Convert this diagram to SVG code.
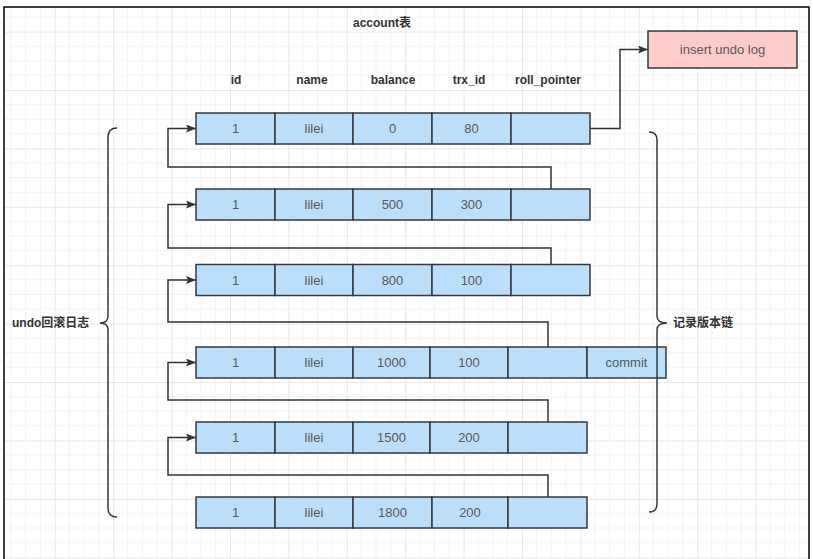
<svg xmlns="http://www.w3.org/2000/svg" width="813" height="559" viewBox="0 0 813 559">
<style>
.cell{fill:#bbdefb;stroke:#36393d;stroke-width:1.5}
.ct{font-family:"Liberation Sans","Noto Sans CJK SC",sans-serif;font-size:13px;fill:#595959;text-anchor:middle;dominant-baseline:central}
.hd{font-family:"Liberation Sans","Noto Sans CJK SC",sans-serif;font-size:12px;font-weight:bold;fill:#333;text-anchor:middle;dominant-baseline:central}
.lb{font-family:"Liberation Sans","Noto Sans CJK SC",sans-serif;font-size:12px;font-weight:bold;fill:#333;dominant-baseline:central}
.conn{fill:none;stroke:#333;stroke-width:1.5}
.brace{fill:none;stroke:#36393d;stroke-width:1.5}
</style>
<defs>
<pattern id="grid" patternUnits="userSpaceOnUse" x="-3.6" y="-26.8" width="58.4" height="58.4">
<path d="M14.6,0V58.4M29.2,0V58.4M43.8,0V58.4M0,14.6H58.4M0,29.2H58.4M0,43.8H58.4" stroke="#f2f2f2" stroke-width="1" fill="none"/>
<path d="M0.5,0V58.4M0,0.5H58.4" stroke="#e8e8e8" stroke-width="1" fill="none"/>
</pattern>
<marker id="arr" markerUnits="userSpaceOnUse" markerWidth="10" markerHeight="8" refX="10" refY="4" orient="auto">
<path d="M0,0L10,4L0,8L2,4Z" fill="#333"/>
</marker>
</defs>
<rect width="813" height="559" fill="#fff"/>
<rect x="4" y="7" width="805" height="552" fill="url(#grid)"/>
<path d="M4,559V7H809V559" fill="none" stroke="#000" stroke-width="1.5"/>

<text class="hd" x="382" y="23">account表</text>
<g id="headers">
<text class="hd" x="236" y="80">id</text>
<text class="hd" x="312" y="80">name</text>
<text class="hd" x="393" y="80">balance</text>
<text class="hd" x="469" y="80">trx_id</text>
<text class="hd" x="548" y="80">roll_pointer</text>
</g>

<g id="row1">
<rect class="cell" x="196" y="113" width="79" height="31"/>
<rect class="cell" x="275" y="113" width="78" height="31"/>
<rect class="cell" x="353" y="113" width="79" height="31"/>
<rect class="cell" x="432" y="113" width="79" height="31"/>
<rect class="cell" x="511" y="113" width="79" height="31"/>
<text class="ct" x="235.5" y="128.5">1</text>
<text class="ct" x="314" y="128.5">lilei</text>
<text class="ct" x="392.5" y="128.5">0</text>
<text class="ct" x="471.5" y="128.5">80</text>
</g>
<g id="row2">
<rect class="cell" x="196" y="189" width="79" height="31"/>
<rect class="cell" x="275" y="189" width="78" height="31"/>
<rect class="cell" x="353" y="189" width="79" height="31"/>
<rect class="cell" x="432" y="189" width="79" height="31"/>
<rect class="cell" x="511" y="189" width="79" height="31"/>
<text class="ct" x="235.5" y="204.5">1</text>
<text class="ct" x="314" y="204.5">lilei</text>
<text class="ct" x="392.5" y="204.5">500</text>
<text class="ct" x="471.5" y="204.5">300</text>
</g>
<g id="row3">
<rect class="cell" x="196" y="264.5" width="79" height="31"/>
<rect class="cell" x="275" y="264.5" width="78" height="31"/>
<rect class="cell" x="353" y="264.5" width="79" height="31"/>
<rect class="cell" x="432" y="264.5" width="79" height="31"/>
<rect class="cell" x="511" y="264.5" width="79" height="31"/>
<text class="ct" x="235.5" y="280">1</text>
<text class="ct" x="314" y="280">lilei</text>
<text class="ct" x="392.5" y="280">800</text>
<text class="ct" x="471.5" y="280">100</text>
</g>
<g id="row4">
<rect class="cell" x="196" y="347" width="79" height="31"/>
<rect class="cell" x="275" y="347" width="78" height="31"/>
<rect class="cell" x="353" y="347" width="77" height="31"/>
<rect class="cell" x="430" y="347" width="78" height="31"/>
<rect class="cell" x="508" y="347" width="79" height="31"/>
<rect class="cell" x="587" y="347" width="79" height="31"/>
<text class="ct" x="235.5" y="362.5">1</text>
<text class="ct" x="314" y="362.5">lilei</text>
<text class="ct" x="391.5" y="362.5">1000</text>
<text class="ct" x="469" y="362.5">100</text>
<text class="ct" x="626.5" y="362.5">commit</text>
</g>
<g id="row5">
<rect class="cell" x="196" y="422" width="79" height="31"/>
<rect class="cell" x="275" y="422" width="78" height="31"/>
<rect class="cell" x="353" y="422" width="77" height="31"/>
<rect class="cell" x="430" y="422" width="78" height="31"/>
<rect class="cell" x="508" y="422" width="79" height="31"/>
<text class="ct" x="235.5" y="437.5">1</text>
<text class="ct" x="314" y="437.5">lilei</text>
<text class="ct" x="391.5" y="437.5">1500</text>
<text class="ct" x="469" y="437.5">200</text>
</g>
<g id="row6">
<rect class="cell" x="196" y="497" width="79" height="31"/>
<rect class="cell" x="275" y="497" width="78" height="31"/>
<rect class="cell" x="353" y="497" width="79" height="31"/>
<rect class="cell" x="432" y="497" width="76" height="31"/>
<rect class="cell" x="508" y="497" width="79" height="31"/>
<text class="ct" x="235.5" y="512.5">1</text>
<text class="ct" x="314" y="512.5">lilei</text>
<text class="ct" x="392.5" y="512.5">1800</text>
<text class="ct" x="470" y="512.5">200</text>
</g>

<g id="insert-undo-log">
<rect x="648" y="31" width="149" height="37" fill="#ffcccc" stroke="#36393d" stroke-width="1.5"/>
<text class="ct" x="722.5" y="49.5">insert undo log</text>
</g>

<g id="connectors">
<path class="conn" d="M590,128.5H620V49.5H648" marker-end="url(#arr)"/>
<path class="conn" d="M551,189V167H168V128.5H196" marker-end="url(#arr)"/>
<path class="conn" d="M551,264.5V248H168V204.5H196" marker-end="url(#arr)"/>
<path class="conn" d="M548,347V322H168V280H196" marker-end="url(#arr)"/>
<path class="conn" d="M548,422V400H168V362.5H196" marker-end="url(#arr)"/>
<path class="conn" d="M548,497V475H168V437.5H196" marker-end="url(#arr)"/>
</g>

<g id="undo-brace">
<path class="brace" d="M117,128Q108,128 108,137V316Q108,323 100,323Q108,323 108,330V508Q108,517 117,517"/>
<text class="lb" x="12" y="323">undo回滚日志</text>
</g>
<g id="version-brace">
<path class="brace" d="M649,132Q657,132 657,140V316Q657,323 667,323Q657,323 657,330V504Q657,512 649,512"/>
<text class="lb" x="673" y="323">记录版本链</text>
</g>
</svg>
